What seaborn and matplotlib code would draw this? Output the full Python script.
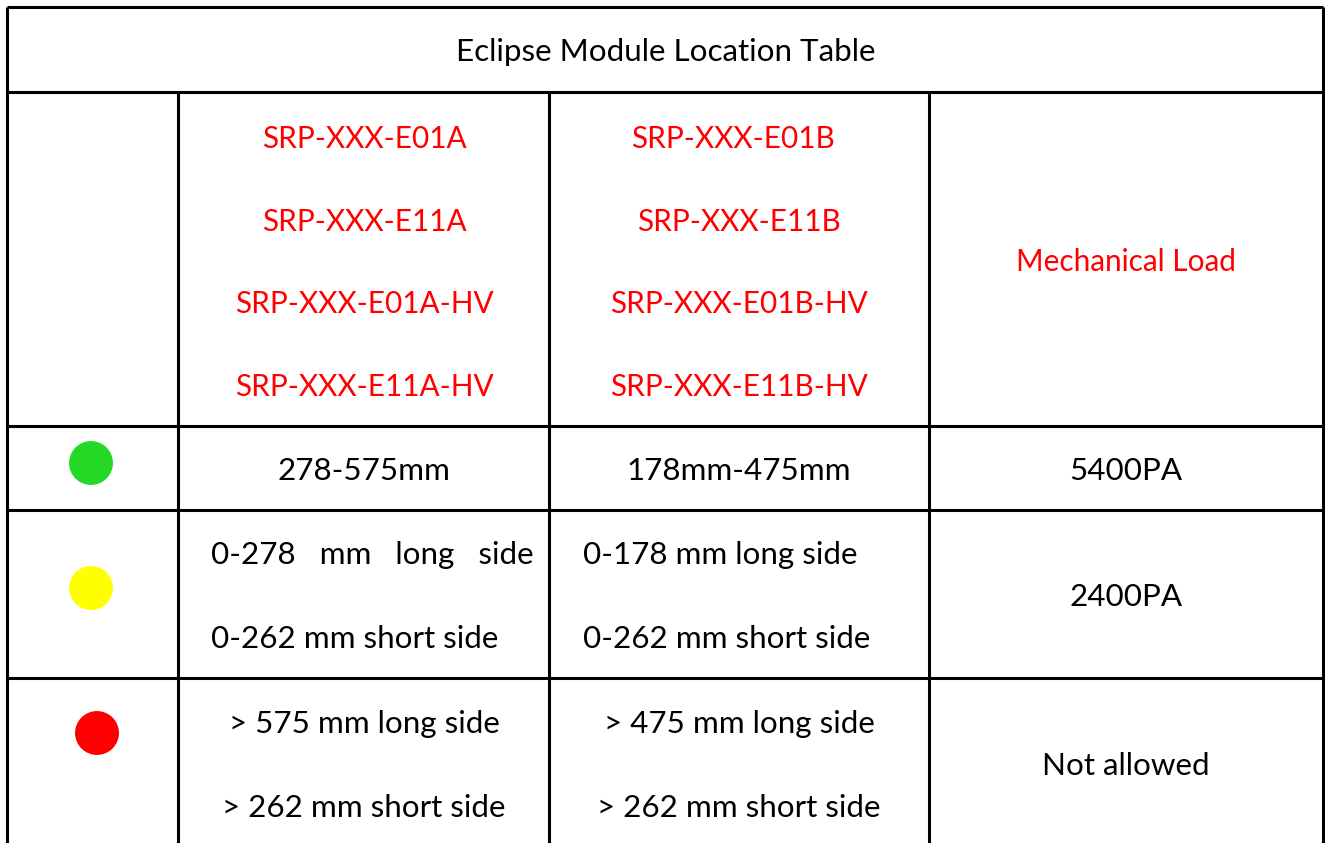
import matplotlib.pyplot as plt
import seaborn as sns
import pandas as pd

# --- table content ---
title = 'Eclipse Module Location Table'
header_a = ['SRP-XXX-E01A', 'SRP-XXX-E11A', 'SRP-XXX-E01A-HV', 'SRP-XXX-E11A-HV']
header_b = ['SRP-XXX-E01B', 'SRP-XXX-E11B', 'SRP-XXX-E01B-HV', 'SRP-XXX-E11B-HV']
header_load = 'Mechanical Load'
status_colors = ['#26d926', '#ffff00', '#ff0000']
range_a = [['278-575mm'],
           ['0-278   mm   long   side', '0-262 mm short side'],
           ['> 575 mm long side', '> 262 mm short side']]
range_b = [['178mm-475mm'],
           ['0-178 mm long side', '0-262 mm short side'],
           ['> 475 mm long side', '> 262 mm short side']]
loads = ['5400PA', '2400PA', 'Not allowed']

# --- layout (pixels) ---
col_edges = [7, 178, 549, 929, 1323]
row_edges = [7, 92, 426, 510, 678, 843]
col_a_x, col_b_x, load_x = 364, 739, 1126
head_b_x = [733, 739, 739, 739]
dot_x = [91, 91, 97]
line_gap = 84
dy = 3  # small nudge so text sits like the original

sns.set_theme(style='white')
plt.rcParams['font.family'] = ['Lato', 'DejaVu Sans']
plt.rcParams['text.color'] = 'black'

fig = plt.figure(figsize=(13.25, 8.43), dpi=100)
ax = fig.add_axes([0, 0, 1, 1])
ax.set_xlim(0, 1325)
ax.set_ylim(843, 0)
ax.axis('off')

lw = 2.2
# outer frame / grid
ax.hlines(row_edges[0], col_edges[0], col_edges[-1], color='black', lw=lw)
for y in row_edges[1:-1]:
    ax.hlines(y, col_edges[0], col_edges[-1], color='black', lw=lw)
ax.vlines([col_edges[0], col_edges[-1]], row_edges[0], row_edges[-1] + 5, color='black', lw=lw)
ax.vlines(col_edges[1:-1], row_edges[1], row_edges[-1] + 5, color='black', lw=lw)

fs = 22.6
fs_red = 21.4
ax.text(666, (row_edges[0] + row_edges[1]) / 2 + dy, title, ha='center', va='center', fontsize=fs)

# header row
top = 136
for i, (a, b) in enumerate(zip(header_a, header_b)):
    ax.text(col_a_x, top + i * 82.7 + dy, a, ha='center', va='center', fontsize=fs_red, color='red')
    ax.text(head_b_x[i], top + i * 82.7 + dy, b, ha='center', va='center', fontsize=fs_red, color='red')
ax.text(load_x, (row_edges[1] + row_edges[2]) / 2 + dy, header_load, ha='center', va='center',
        fontsize=fs_red, color='red')

# status dots
mids = [(row_edges[k] + row_edges[k + 1]) / 2 for k in range(2, 5)]
mids[2] = 733
dots = pd.DataFrame({'x': dot_x, 'y': [mids[0] - 5, mids[1] - 6, mids[2]], 'status': status_colors})
sns.scatterplot(data=dots, x='x', y='y', hue='status', palette=status_colors, s=1000,
                linewidth=0, legend=False, ax=ax)

# data rows
for k in range(3):
    mid = (row_edges[k + 2] + row_edges[k + 3]) / 2 if k < 2 else 763
    mid += dy
    a_lines, b_lines = range_a[k], range_b[k]
    n = len(a_lines)
    ys = [mid] if n == 1 else [mid - line_gap / 2, mid + line_gap / 2]
    for j in range(n):
        if k == 1:
            ax.text(211, ys[j], a_lines[j], ha='left', va='center', fontsize=fs)
            ax.text(583, ys[j], b_lines[j], ha='left', va='center', fontsize=fs)
        else:
            ax.text(col_a_x, ys[j], a_lines[j], ha='center', va='center', fontsize=fs)
            ax.text(col_b_x, ys[j], b_lines[j], ha='center', va='center', fontsize=fs)
    ax.text(load_x, mid, loads[k], ha='center', va='center', fontsize=fs)

fig.savefig('out.png', dpi=100, facecolor='white')
